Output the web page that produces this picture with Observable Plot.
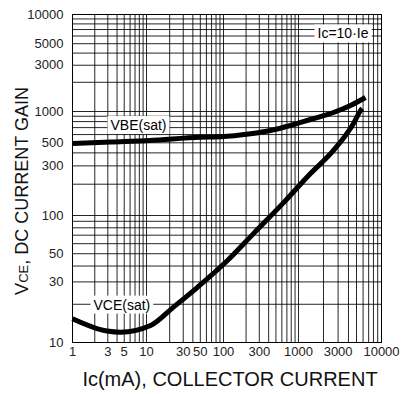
<!DOCTYPE html>
<html><head><meta charset="utf-8">
<script src="https://cdn.jsdelivr.net/npm/d3@7"></script>
<script src="https://cdn.jsdelivr.net/npm/@observablehq/plot@0.6"></script>
<style>body{margin:0;background:#fff} svg{display:block}</style>
</head><body><div id="chart"></div>
<script>
// VBE(sat) curve: collector current (mA) vs value
const vbeIc  = [1, 3.26, 10.9, 50, 91, 229, 424, 781, 1395, 2640, 4230, 6420];
const vbeVal = [492, 509, 526, 566, 572, 611, 657, 733, 838, 978, 1153, 1394];
// VCE(sat) curve
const vceIc  = [1, 2.94, 4.46, 11.3, 22.4, 45.9, 112, 251, 671, 1395, 2640, 4600, 5580, 5860];
const vceVal = [15.4, 12.3, 12.05, 13.6, 19, 27.2, 44, 72, 139, 253, 422, 767, 1020, 1074];
// tick labels
const xTicks = [1, 3, 5, 10, 30, 50, 100, 300, 1000, 3000, 10000];
const yTicks = [10, 30, 50, 100, 300, 500, 1000, 3000, 5000, 10000];
// annotations
const annText = ["VBE(sat)", "VCE(sat)", "Ic=10·Ie"];
const annX = [3.26, 1.92, 1694];
const annY = [733, 19.7, 6300];

const vbe = vbeIc.map((x, i) => ({x, y: vbeVal[i]}));
const vce = vceIc.map((x, i) => ({x, y: vceVal[i]}));
const ann = annText.map((t, i) => ({t, x: annX[i], y: annY[i]}));

const xGrid = d3.scaleLog().domain([1, 10000]).ticks();
const yGrid = d3.scaleLog().domain([10, 10000]).ticks();

const font = "'Liberation Sans', Arial, sans-serif";

const plot = Plot.plot({
  width: 402,
  height: 394,
  marginLeft: 72,
  marginRight: 21,
  marginTop: 14,
  marginBottom: 52,
  style: {fontFamily: font, fontSize: "13px", background: "white", color: "#000"},
  x: {type: "log", domain: [1, 10, 100, 1000, 10000], range: [72, 146, 223, 298, 381], axis: null},
  y: {type: "log", domain: [10, 100, 1000, 10000], range: [342, 215, 111, 14], axis: null},
  marks: [
    Plot.gridX(xGrid, {stroke: "#000", strokeOpacity: 0.85, strokeWidth: 1}),
    Plot.gridY(yGrid, {stroke: "#000", strokeOpacity: 0.85, strokeWidth: 1}),
    Plot.frame({stroke: "#000", strokeWidth: 1}),
    // tick labels
    Plot.text(xTicks, {x: d => d, text: d => String(d), frameAnchor: "bottom", lineAnchor: "top", dy: 4, fontSize: 13, fill: "#222"}),
    Plot.text(yTicks, {y: d => d, text: d => String(d), frameAnchor: "left", textAnchor: "end", dx: -9, fontSize: 13, fill: "#222"}),
    Plot.line(vbe, {x: "x", y: "y", stroke: "#000", strokeWidth: 5, curve: "monotone-x", strokeLinecap: "butt"}),
    Plot.line(vce, {x: "x", y: "y", stroke: "#000", strokeWidth: 5, curve: "monotone-x", strokeLinecap: "butt"}),
    Plot.text(ann, {x: "x", y: "y", text: "t", textAnchor: "start", fontSize: 14, fill: "#000"})
  ]
});

document.getElementById("chart").appendChild(plot);
const svg = d3.select(plot);

// white boxes behind annotations
svg.selectAll("text").filter(function() { return annText.includes(this.textContent); }).each(function() {
  const b = this.getBBox();
  const tr = this.getAttribute("transform");
  const r = d3.select(this.parentNode).insert("rect", () => this)
    .attr("x", b.x - 3).attr("y", b.y - 1)
    .attr("width", b.width + 6).attr("height", b.height + 2)
    .attr("fill", "white");
  if (tr) r.attr("transform", tr);
});

// axis titles
svg.append("text")
  .attr("x", 230).attr("y", 386)
  .attr("text-anchor", "middle")
  .attr("font-family", font).attr("font-size", 20).attr("fill", "#111")
  .text("Ic(mA), COLLECTOR CURRENT");

const yt = svg.append("text")
  .attr("transform", "translate(28,191) rotate(-90)")
  .attr("text-anchor", "middle")
  .attr("font-family", font).attr("font-size", 18).attr("fill", "#111");
yt.append("tspan").text("V");
yt.append("tspan").attr("font-size", 13).text("CE");
yt.append("tspan").text(", DC CURRENT GAIN");
</script>
</body></html>
